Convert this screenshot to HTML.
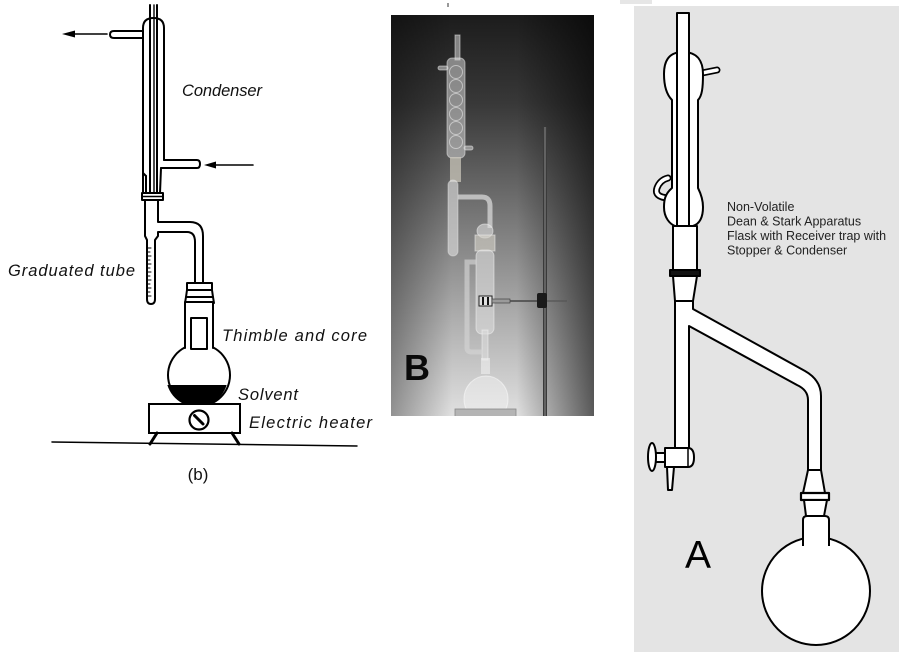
<!DOCTYPE html>
<html><head><meta charset="utf-8">
<style>
html,body{margin:0;padding:0;background:#fff;}
svg{display:block;}
</style></head><body>
<svg width="912" height="668" viewBox="0 0 912 668" xmlns="http://www.w3.org/2000/svg">
<defs>
 <linearGradient id="pv" x1="0" y1="0" x2="0" y2="1">
  <stop offset="0" stop-color="#1c1c1c"/>
  <stop offset="0.22" stop-color="#383838"/>
  <stop offset="0.5" stop-color="#767676"/>
  <stop offset="0.75" stop-color="#acacac"/>
  <stop offset="1" stop-color="#e0e0e0"/>
 </linearGradient>
 <linearGradient id="ph" x1="0" y1="0" x2="1" y2="0">
  <stop offset="0" stop-color="#000" stop-opacity="0.35"/>
  <stop offset="0.3" stop-color="#000" stop-opacity="0"/>
  <stop offset="0.62" stop-color="#000" stop-opacity="0"/>
  <stop offset="1" stop-color="#000" stop-opacity="0.6"/>
 </linearGradient>
 <clipPath id="flaskL"><circle cx="197" cy="376" r="31"/></clipPath>
 <clipPath id="photo"><rect x="391" y="15" width="203" height="401"/></clipPath>
</defs>

<!-- ============ LEFT LINE DRAWING ============ -->
<g fill="none" stroke="#000" stroke-width="2" stroke-linejoin="round" stroke-linecap="round">
 <!-- inner tubes -->
 <line x1="150" y1="5" x2="150" y2="200"/>
 <line x1="154" y1="5" x2="154" y2="200" stroke-width="1.4"/>
 <line x1="157" y1="5" x2="157" y2="200"/>
 <!-- jacket -->
 <path d="M143,193 L143,173 L146,176 M143,173 L143,28 Q143,18 153.5,18 Q164,18 164,28 L164,160"/>
 <path d="M146,176 L146,193"/>
 <path d="M161,168 L160,193"/>
 <!-- outlet arm -->
 <path d="M143,31 L114,31 Q110,31 110,34.5 Q110,38 114,38 L143,38"/>
 <!-- inlet arm -->
 <path d="M164,160 L197,160 Q200,160 200,164 Q200,168 197,168 L161,168"/>
 <!-- arrows -->
 <line x1="107" y1="34" x2="72" y2="34" stroke-width="1.6"/>
 <line x1="253" y1="165" x2="213" y2="165" stroke-width="1.6"/>
 <!-- ring -->
 <rect x="142" y="193" width="21" height="7" fill="#fff" stroke-width="2"/>
 <line x1="142" y1="196.5" x2="163" y2="196.5" stroke-width="1.5"/>
 <!-- below ring, graduated tube and side arm -->
 <path d="M145,200 L145,236 L147,240 L147,299 Q147,304 151,304 Q155,304 155,299 L155,240 L158,236 L158,232 L187,232 Q195,232 195,242 L195,283"/>
 <path d="M158,200 L158,222 L190,222 Q203,222 203,236 L203,283"/>
 <!-- graduation ticks -->
 <g stroke-width="1">
  <line x1="148" y1="248" x2="151" y2="248"/><line x1="148" y1="252" x2="150" y2="252"/>
  <line x1="148" y1="256" x2="151" y2="256"/><line x1="148" y1="260" x2="150" y2="260"/>
  <line x1="148" y1="264" x2="151" y2="264"/><line x1="148" y1="268" x2="150" y2="268"/>
  <line x1="148" y1="272" x2="151" y2="272"/><line x1="148" y1="276" x2="150" y2="276"/>
  <line x1="148" y1="280" x2="151" y2="280"/><line x1="148" y1="284" x2="150" y2="284"/>
  <line x1="148" y1="288" x2="151" y2="288"/><line x1="148" y1="292" x2="150" y2="292"/>
  <line x1="148" y1="296" x2="151" y2="296"/>
 </g>
 <!-- stopper -->
 <rect x="187" y="283" width="25" height="7" fill="#fff"/>
 <path d="M187,290 L186,297 L213,297 L212,290"/>
 <path d="M186,297 L185,303 M213,297 L214,303"/>
 <!-- extractor body -->
 <path d="M185,302 L213,302 M185,302 L185,348 M213,302 L213,348"/>
 <!-- thimble -->
 <rect x="191" y="318" width="16" height="31"/>
 <!-- flask -->
 <path d="M185,347.4 A31,31 0 1,0 213,347.4"/>
</g>
<rect x="160" y="385" width="80" height="30" fill="#000" clip-path="url(#flaskL)"/>
<polygon points="62,34 75,30.5 75,37.5" fill="#000"/>
<polygon points="204,165 216,161.5 216,168.5" fill="#000"/>
<g fill="none" stroke="#000" stroke-width="2" stroke-linecap="round">
 <rect x="149" y="404" width="91" height="29" fill="#fff"/>
 <circle cx="199" cy="420" r="9.5" fill="#fff" stroke-width="2.2"/>
 <line x1="194.5" y1="415.5" x2="203" y2="424" stroke-width="3"/>
 <path d="M157,433 L150,444 M232,433 L239,444" stroke-width="3"/>
 <line x1="52" y1="442" x2="357" y2="446" stroke-width="1.5"/>
</g>
<g font-family="'Liberation Sans', 'DejaVu Sans', sans-serif" font-style="italic" font-size="16.5" fill="#111">
 <text x="182" y="96" textLength="80">Condenser</text>
 <text x="8" y="276" textLength="127">Graduated tube</text>
 <text x="222" y="341" textLength="145">Thimble and core</text>
 <text x="238" y="400" textLength="60">Solvent</text>
 <text x="249" y="428" textLength="123">Electric heater</text>
</g>
<text x="198" y="480" text-anchor="middle" font-family="'Liberation Sans', sans-serif" font-size="17" fill="#111">(b)</text>

<!-- ============ PHOTO B ============ -->
<line x1="448" y1="3" x2="448" y2="7" stroke="#333" stroke-width="1"/>
<g clip-path="url(#photo)">
 <rect x="391" y="15" width="203" height="401" fill="url(#pv)"/>
 <rect x="391" y="15" width="203" height="401" fill="url(#ph)"/>
 <!-- stand rod -->
 <rect x="543" y="127" width="4" height="289" fill="#3a3a3a"/>
 <rect x="544.5" y="127" width="1" height="289" fill="#8a8a8a"/>
 <!-- condenser -->
 <g fill="#d4d4d4" fill-opacity="0.55" stroke="#f2f2f2" stroke-opacity="0.5" stroke-width="1">
  <rect x="455" y="35" width="5" height="25"/>
  <rect x="438" y="66" width="10" height="4" rx="2"/>
  <rect x="464" y="146" width="9" height="4" rx="2"/>
  <rect x="447" y="58" width="18" height="100" rx="5"/>
 </g>
 <g fill="none" stroke="#eeeeee" stroke-opacity="0.55" stroke-width="1">
  <circle cx="456" cy="72" r="6.5"/><circle cx="456" cy="86" r="6.5"/>
  <circle cx="456" cy="100" r="6.5"/><circle cx="456" cy="114" r="6.5"/>
  <circle cx="456" cy="128" r="6.5"/><circle cx="456" cy="142" r="6.5"/>
 </g>
 <rect x="450" y="157" width="11" height="25" fill="#cac6ba" fill-opacity="0.75"/>
 <rect x="448" y="180" width="10" height="76" rx="5" fill="#dadada" fill-opacity="0.65" stroke="#f5f5f5" stroke-opacity="0.4"/>
 <path d="M458,197 L482,197 Q490,197 490,206 L490,228" fill="none" stroke="#d8d8d8" stroke-opacity="0.75" stroke-width="5"/>
 <!-- extractor -->
 <g fill="#dcdcdc" fill-opacity="0.6" stroke="#f5f5f5" stroke-opacity="0.5" stroke-width="1">
  <ellipse cx="485" cy="231" rx="8" ry="7"/>
  <rect x="475" y="235" width="20" height="16" fill="#d6d2c8"/>
  <rect x="476" y="250" width="18" height="84" rx="6"/>
  <rect x="482" y="330" width="6" height="30"/>
 </g>
 <path d="M476,262 L467,262 L467,348 Q467,352 472,352 L483,352" fill="none" stroke="#d4d4d4" stroke-opacity="0.65" stroke-width="5"/>
 <!-- clamp -->
 <rect x="479" y="296" width="13" height="10" fill="#e0e0e0" stroke="#222" stroke-width="1"/>
 <rect x="482" y="297" width="2" height="8" fill="#111"/>
 <rect x="487" y="297" width="2" height="8" fill="#111"/>
 <rect x="492" y="299" width="18" height="4" fill="#9a9a9a" stroke="#333" stroke-width="0.6"/>
 <line x1="510" y1="301" x2="540" y2="301" stroke="#444" stroke-width="1.5"/>
 <rect x="537" y="293" width="10" height="15" rx="2" fill="#1a1a1a"/>
 <line x1="547" y1="301" x2="567" y2="301" stroke="#555" stroke-width="1.3"/>
 <!-- bottom flask & heater -->
 <rect x="481" y="358" width="9" height="16" fill="#f0f0f0" fill-opacity="0.6"/>
 <ellipse cx="486" cy="399" rx="22" ry="23" fill="#f2f2f2" fill-opacity="0.5" stroke="#fff" stroke-opacity="0.5"/>
 <rect x="455" y="409" width="61" height="8" fill="#b4b4b4" stroke="#888" stroke-width="0.8"/>
</g>
<text x="404" y="380" font-family="'Liberation Sans', sans-serif" font-weight="bold" font-size="36" fill="#0a0a0a">B</text>

<!-- ============ RIGHT PANEL A ============ -->
<rect x="620" y="0" width="32" height="4" fill="#e6e6e6"/>
<rect x="634" y="6" width="265" height="646" fill="#e4e4e4"/>
<g fill="#fff" stroke="#000" stroke-width="2" stroke-linejoin="round">
 <!-- side arms -->
 <path d="M702,73 L717,70" stroke="#000" stroke-width="7" stroke-linecap="round"/>
 <path d="M702,73 L717,70" stroke="#fff" stroke-width="3.5" stroke-linecap="round"/>
 <path d="M668,198 Q654,197 657,188 Q660,180 668,178" fill="none" stroke="#000" stroke-width="7" stroke-linecap="round"/>
 <path d="M668,198 Q654,197 657,188 Q660,180 668,178" fill="none" stroke="#fff" stroke-width="3.5" stroke-linecap="round"/>
 <!-- jacket -->
 <path d="M683,52 C668,52 664,62 664,74 C664,88 668,96 672,100 L672,188 C665,194 664,200 664,207 C664,218 670,224 675,226 L693,226 C699,224 703,218 703,207 C703,200 701,194 698,188 L698,100 C702,96 703,88 703,74 C703,62 698,52 683,52 Z"/>
 <!-- inner tube -->
 <rect x="677" y="13" width="12" height="213"/>
 <!-- joint -->
 <rect x="673" y="226" width="24" height="44"/>
 <rect x="670" y="270" width="30" height="6" fill="#111"/>
 <polygon points="673,276 697,276 693,301 675,301"/>
 <!-- lower tube and diagonal -->
 <path d="M675,301 L693,301 L693,309 L805,371 Q821,380 821,396 L821,470 L808,470 L808,400 Q808,390 797,385 L689,326 L689,448 L675,448 Z"/>
 <!-- stopcock -->
 <path d="M665,448 L688,448 Q694,448 694,457.5 Q694,467 688,467 L665,467 Z"/>
 <line x1="688" y1="449" x2="688" y2="466" stroke-width="1.5"/>
 <rect x="655" y="453" width="10" height="9"/>
 <ellipse cx="652" cy="457" rx="4" ry="14"/>
 <polygon points="667,467 674,467 672,490 668,490"/>
 <!-- lower cone, ring, flask -->
 <polygon points="808,470 821,470 825,493 803,493"/>
 <rect x="801" y="493" width="28" height="7" stroke-width="2.2"/>
 <polygon points="804,500 827,500 824,516 806,516"/>
 <circle cx="816" cy="591" r="54"/>
 <path d="M803,546 L803,520 Q803,516 807,516 L825,516 Q829,516 829,520 L829,546" />
</g>
<rect x="804" y="538" width="24" height="10" fill="#fff"/>
<g font-family="'Liberation Sans', 'DejaVu Sans', sans-serif" font-size="12.5" fill="#222">
 <text x="727" y="211">Non-Volatile</text>
 <text x="727" y="225.5">Dean &amp; Stark Apparatus</text>
 <text x="727" y="240">Flask with Receiver trap with</text>
 <text x="727" y="254.5">Stopper &amp; Condenser</text>
</g>
<text x="685" y="568" font-family="'Liberation Sans', sans-serif" font-size="39" fill="#000">A</text>
</svg>
</body></html>
